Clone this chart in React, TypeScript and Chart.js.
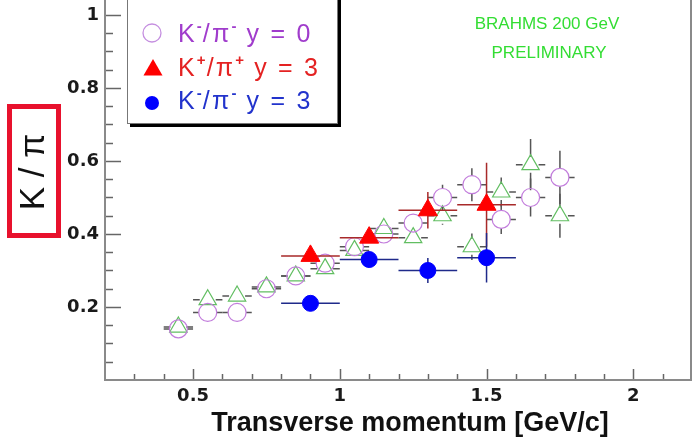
import React, { useEffect, useRef } from 'react';
import { Chart, registerables } from 'chart.js';

Chart.register(...registerables);

// ---- data ----
const ptBinsY0 = [0.45, 0.55, 0.65, 0.75, 0.85, 0.95, 1.05, 1.15, 1.25, 1.35, 1.45, 1.55, 1.65, 1.75];
const kMinusY0 = [0.14, 0.185, 0.185, 0.25, 0.285, 0.32, 0.365, 0.40, 0.43, 0.50, 0.535, 0.44, 0.50, 0.555];
const kMinusY0Err = [0.005, 0.006, 0.007, 0.008, 0.009, 0.01, 0.012, 0.015, 0.02, 0.035, 0.045, 0.04, 0.052, 0.073];
const kPlusY0 = [0.145, 0.22, 0.23, 0.255, 0.285, 0.305, 0.355, 0.415, 0.39, 0.45, 0.365, 0.515, 0.59, 0.45];
const kPlusY0Err = [0.005, 0.006, 0.007, 0.008, 0.009, 0.01, 0.012, 0.015, 0.02, 0.025, 0.036, 0.04, 0.07, 0.06];
const ptHalfBinY0 = 0.05;

const ptBinsY3 = [0.9, 1.1, 1.3, 1.5];
const kPlusY3 = [0.34, 0.39, 0.465, 0.48];
const kPlusY3Err = [0.01, 0.015, 0.05, 0.115];
const kMinusY3 = [0.21, 0.33, 0.30, 0.335];
const kMinusY3Err = [0.01, 0.012, 0.034, 0.068];
const ptHalfBinY3 = 0.1;

const xTickValues = [0.5, 1, 1.5, 2];
const yTickValues = [0.2, 0.4, 0.6, 0.8, 1];
const xMinorStep = 0.1;
const yMinorStep = 0.05;
const xRange = [0.2, 2.2];
const yRange = [0, 1.041];

const legendLabels = ['K⁻/π⁻ y = 0', 'K⁺/π⁺ y = 3', 'K⁻/π⁻ y = 3'];
const hiddenLabel = 'K⁺/π⁺ y = 0';
const xTitle = 'Transverse momentum [GeV/c]';
const yTitle = 'K / π';
const noteLines = ['BRAHMS 200 GeV', 'PRELIMINARY'];

function toPoints(xs: number[], ys: number[], xe: number, ye: number[]) {
  return xs.map((x, i) => ({ x, y: ys[i], xErr: xe, yErr: ye[i] }));
}

const physPlugin = {
  id: 'physPlugin',
  beforeDatasetsDraw(chart: any) {
    const { ctx, chartArea, scales } = chart;
    const xs = scales.x;
    const ys = scales.y;
    ctx.save();
    // ticks (inside)
    ctx.strokeStyle = '#666';
    ctx.lineWidth = 1.5;
    const nearly = (a: number, b: number) => Math.abs(a - b) < 1e-6;
    for (let v = yMinorStep; v <= yRange[1]; v += yMinorStep) {
      const major = yTickValues.some((t) => nearly(t, v));
      const py = Math.round(ys.getPixelForValue(v)) + 0.5;
      ctx.beginPath();
      ctx.moveTo(chartArea.left, py);
      ctx.lineTo(chartArea.left + (major ? 16 : 8), py);
      ctx.stroke();
    }
    for (let v = xRange[0] + xMinorStep; v < xRange[1] - 1e-6; v += xMinorStep) {
      const major = xTickValues.some((t) => nearly(t, v));
      const px = Math.round(xs.getPixelForValue(v)) + 0.5;
      ctx.beginPath();
      ctx.moveTo(px, chartArea.bottom);
      ctx.lineTo(px, chartArea.bottom - (major ? 11 : 6));
      ctx.stroke();
    }
    // frame
    ctx.strokeStyle = '#8a8a8a';
    ctx.lineWidth = 2;
    ctx.beginPath();
    ctx.moveTo(chartArea.left, chartArea.top);
    ctx.lineTo(chartArea.left, chartArea.bottom);
    ctx.lineTo(chartArea.right - 1, chartArea.bottom);
    ctx.lineTo(chartArea.right - 1, chartArea.top);
    ctx.stroke();
    ctx.restore();
  },
  beforeDatasetDraw(chart: any, args: any) {
    const { ctx, scales } = chart;
    const xs = scales.x;
    const ys = scales.y;
    const ds = chart.data.datasets[args.index];
    const gap = ds.errGap || 0;
    ctx.save();
    ctx.strokeStyle = ds.errColor;
    ctx.lineWidth = 1.5;
    ds.data.forEach((d: any) => {
      const px = xs.getPixelForValue(d.x);
      const py = ys.getPixelForValue(d.y);
      const x1 = xs.getPixelForValue(d.x - d.xErr);
      const x2 = xs.getPixelForValue(d.x + d.xErr);
      const y1 = ys.getPixelForValue(d.y + d.yErr);
      const y2 = ys.getPixelForValue(d.y - d.yErr);
      ctx.beginPath();
      if (px - x1 > gap) {
        ctx.moveTo(x1, py); ctx.lineTo(px - gap, py);
        ctx.moveTo(px + gap, py); ctx.lineTo(x2, py);
      }
      if (py - y1 > gap) {
        ctx.moveTo(px, y1); ctx.lineTo(px, py - gap);
        ctx.moveTo(px, py + gap); ctx.lineTo(px, y2);
      }
      ctx.stroke();
    });
    ctx.restore();
  },
  afterDraw(chart: any) {
    const { ctx } = chart;
    // x title
    ctx.save();
    ctx.fillStyle = '#111';
    ctx.font = 'bold 27px "Liberation Sans", Arial, sans-serif';
    ctx.textAlign = 'center';
    ctx.textBaseline = 'alphabetic';
    ctx.fillText(xTitle, 410, 431);
    ctx.restore();

    // y title with red box
    ctx.save();
    ctx.strokeStyle = '#e8112d';
    ctx.lineWidth = 5;
    ctx.strokeRect(9.5, 106.5, 49, 129);
    ctx.translate(34, 172);
    ctx.rotate(-Math.PI / 2);
    ctx.fillStyle = '#111';
    ctx.font = '35px "Liberation Sans", Arial, sans-serif';
    ctx.textAlign = 'center';
    ctx.textBaseline = 'middle';
    ctx.fillText(yTitle, 0, 0);
    ctx.restore();

    // note text
    ctx.save();
    ctx.fillStyle = '#33dd33';
    ctx.font = '17px "Liberation Sans", Arial, sans-serif';
    ctx.textAlign = 'center';
    ctx.textBaseline = 'middle';
    ctx.fillText(noteLines[0], 547, 24);
    ctx.fillText(noteLines[1], 549, 53);
    ctx.restore();

    // legend box with shadow
    ctx.save();
    const bx = 127, by = -40, bw = 210, bh = 163;
    ctx.fillStyle = '#000';
    ctx.fillRect(bx + 3, by + 3, bw + 1, bh + 1);
    ctx.fillStyle = '#fff';
    ctx.fillRect(bx, by, bw, bh);
    ctx.strokeStyle = '#777';
    ctx.lineWidth = 1;
    ctx.strokeRect(bx + 0.5, by + 0.5, bw, bh);

    const rows = [35, 69, 102];
    const colors = ['#a03ccc', '#e42222', '#2233cc'];
    // markers
    ctx.lineWidth = 1.3;
    ctx.strokeStyle = '#c58fe0';
    ctx.beginPath();
    ctx.arc(152, rows[0] - 2, 9, 0, Math.PI * 2);
    ctx.stroke();
    ctx.fillStyle = '#ff0000';
    const r = 11;
    ctx.beginPath();
    ctx.moveTo(153, 70 - r);
    ctx.lineTo(153 + r * 0.866, 70 + r / 2);
    ctx.lineTo(153 - r * 0.866, 70 + r / 2);
    ctx.closePath();
    ctx.fill();
    ctx.fillStyle = '#0000ff';
    ctx.beginPath();
    ctx.arc(152, 103, 7, 0, Math.PI * 2);
    ctx.fill();

    // texts with superscripts
    ctx.textAlign = 'left';
    ctx.textBaseline = 'middle';
    const size = 25;
    legendLabels.forEach((label, i) => {
      let cx = 178;
      const cy = rows[i];
      ctx.fillStyle = colors[i];
      for (const ch of Array.from(label)) {
        if (ch === '⁻' || ch === '⁺') {
          const s = ch === '⁻' ? '-' : '+';
          ctx.font = `bold ${Math.round(size * 0.6)}px "Liberation Sans", Arial, sans-serif`;
          ctx.fillText(s, cx, cy - size * 0.33);
          cx += ctx.measureText(s).width + 1;
        } else {
          ctx.font = `${size}px "Liberation Sans", Arial, sans-serif`;
          ctx.fillText(ch, cx, cy);
          cx += ctx.measureText(ch).width + 2.2;
        }
      }
    });
    ctx.restore();
  },
};

export default function App() {
  const ref = useRef<HTMLCanvasElement>(null);
  useEffect(() => {
    const canvas = ref.current;
    if (!canvas) return;
    const chart = new Chart(canvas, {
      type: 'scatter',
      data: {
        datasets: [
          {
            label: hiddenLabel,
            data: toPoints(ptBinsY0, kPlusY0, ptHalfBinY0, kPlusY0Err),
            pointStyle: 'triangle',
            pointRadius: 10,
            borderColor: '#62be62',
            backgroundColor: 'rgba(0,0,0,0)',
            borderWidth: 1.2,
            order: 4,
            errColor: '#555',
            errGap: 8,
          } as any,
          {
            label: legendLabels[0],
            data: toPoints(ptBinsY0, kMinusY0, ptHalfBinY0, kMinusY0Err),
            pointStyle: 'circle',
            pointRadius: 9,
            borderColor: '#c27ddc',
            backgroundColor: 'rgba(0,0,0,0)',
            borderWidth: 1.2,
            order: 3,
            errColor: '#555',
            errGap: 9,
          } as any,
          {
            label: legendLabels[1],
            data: toPoints(ptBinsY3, kPlusY3, ptHalfBinY3, kPlusY3Err),
            pointStyle: 'triangle',
            pointRadius: 11,
            borderColor: '#ff0000',
            backgroundColor: '#ff0000',
            borderWidth: 1,
            order: 2,
            errColor: '#a82a2a',
            errGap: 0,
          } as any,
          {
            label: legendLabels[2],
            data: toPoints(ptBinsY3, kMinusY3, ptHalfBinY3, kMinusY3Err),
            pointStyle: 'circle',
            pointRadius: 8,
            borderColor: '#0000ff',
            backgroundColor: '#0000ff',
            borderWidth: 1,
            order: 1,
            errColor: '#1f2a8a',
            errGap: 0,
          } as any,
        ],
      },
      options: {
        responsive: false,
        animation: false,
        devicePixelRatio: 1,
        layout: { autoPadding: false, padding: { left: 0, right: 3, top: 0, bottom: 0 } },
        plugins: { legend: { display: false }, tooltip: { enabled: false } },
        scales: {
          x: {
            type: 'linear',
            min: xRange[0],
            max: xRange[1],
            afterBuildTicks: (s: any) => {
              s.ticks = xTickValues.map((v) => ({ value: v }));
            },
            afterFit: (s: any) => {
              s.height = 58;
              s.paddingLeft = 0;
              s.paddingRight = 0;
            },
            ticks: {
              autoSkip: false,
              maxRotation: 0,
              padding: 6,
              color: '#1a1a1a',
              font: { family: '"DejaVu Sans", sans-serif', weight: 'bold', size: 18 },
              callback: (v: any) => String(v),
            },
            grid: { display: false, drawTicks: false },
            border: { display: false },
          },
          y: {
            type: 'linear',
            min: yRange[0],
            max: yRange[1],
            afterBuildTicks: (s: any) => {
              s.ticks = yTickValues.map((v) => ({ value: v }));
            },
            afterFit: (s: any) => {
              s.width = 105;
              s.paddingTop = 0;
              s.paddingBottom = 0;
            },
            ticks: {
              padding: 6,
              color: '#1a1a1a',
              font: { family: '"DejaVu Sans", sans-serif', weight: 'bold', size: 18 },
              callback: (v: any) => String(v),
            },
            grid: { display: false, drawTicks: false },
            border: { display: false },
          },
        },
      },
      plugins: [physPlugin],
    } as any);
    return () => chart.destroy();
  }, []);

  return (
    <div style={{ position: 'absolute', left: 0, top: 0, width: 695, height: 438, background: '#fff' }}>
      <canvas ref={ref} width={695} height={438} style={{ display: 'block', width: 695, height: 438 }} />
    </div>
  );
}
